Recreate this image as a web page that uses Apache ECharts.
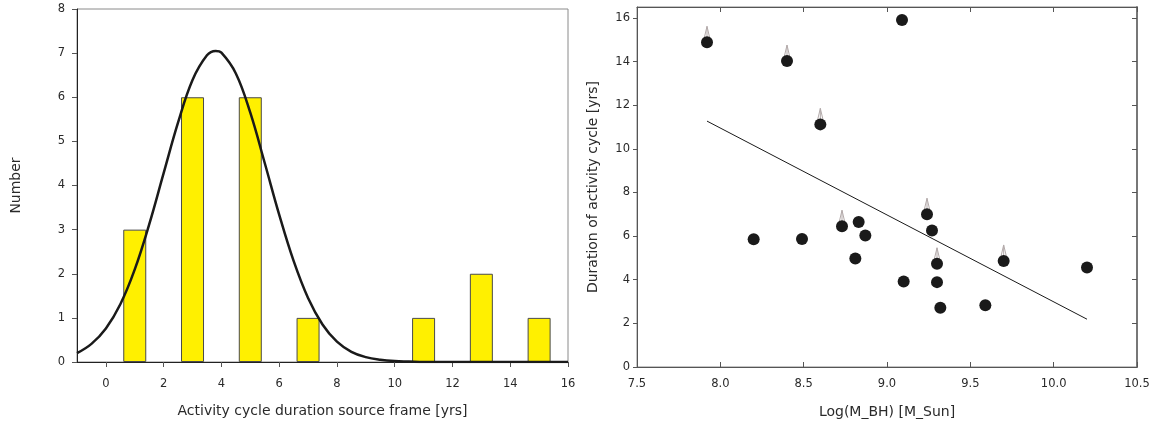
<!DOCTYPE html>
<html>
<head>
<meta charset="utf-8">
<script src="https://cdn.jsdelivr.net/npm/echarts@6/dist/echarts.min.js"></script>
<style>
html,body{margin:0;padding:0;background:#fff;}
#c{width:1160px;height:427px;}
</style>
</head>
<body>
<div id="c"></div>
<script>
// ---- Left panel: histogram of activity cycle durations ----
const histCenters = [1, 3, 5, 7, 11, 13, 15];
const histCounts  = [3, 6, 6, 1, 1, 2, 1];
// fitted curve
const curveX = [-1, -0.5, 0, 0.5, 1, 1.5, 2, 2.5, 3, 3.5, 3.8, 4, 4.5, 5, 5.5, 6, 6.5, 7, 7.5, 8, 8.5, 9, 9.5, 10, 10.5, 11, 11.5, 12, 13, 14, 15, 16];
const curveY = [0.20, 0.41, 0.76, 1.31, 2.10, 3.12, 4.28, 5.43, 6.39, 6.95, 7.05, 7.01, 6.54, 5.65, 4.51, 3.34, 2.29, 1.45, 0.85, 0.46, 0.23, 0.11, 0.05, 0.02, 0.01, 0, 0, 0, 0, 0, 0, 0];
const leftXTicks = [0, 2, 4, 6, 8, 10, 12, 14, 16];
const leftYTicks = [0, 1, 2, 3, 4, 5, 6, 7, 8];

// ---- Right panel: duration vs black hole mass ----
const massLog   = [7.92, 8.40, 8.60, 9.09, 8.20, 8.49, 8.73, 8.83, 8.87, 8.81, 9.24, 9.27, 9.30, 9.10, 9.30, 9.32, 9.59, 9.70, 10.20];
const cycleYrs  = [14.88, 14.02, 11.12, 15.90, 5.86, 5.87, 6.45, 6.65, 6.03, 4.97, 7.00, 6.26, 4.73, 3.92, 3.89, 2.72, 2.83, 4.86, 4.56];
const lowerLim  = [1, 1, 1, 0, 0, 0, 1, 0, 0, 0, 1, 0, 1, 0, 0, 0, 0, 1, 0];
const fitX = [7.92, 10.20];
const fitY = [11.27, 2.19];
const rightXTicks = [7.5, 8.0, 8.5, 9.0, 9.5, 10.0, 10.5];
const rightYTicks = [0, 2, 4, 6, 8, 10, 12, 14, 16];

const FONT = 'DejaVu Sans, Liberation Sans, Arial, sans-serif';
const TXT = '#2a2a2a';

const chart = echarts.init(document.getElementById('c'), null, {renderer: 'canvas'});

const histData = histCenters.map((x, i) => [x, histCounts[i]]);
const curveData = curveX.map((x, i) => [x, curveY[i]]);
const pts = massLog.map((x, i) => [x, cycleYrs[i]]);
const arrowPts = massLog.map((x, i) => [x, cycleYrs[i], lowerLim[i]]).filter(d => d[2] === 1);
const fitData = fitX.map((x, i) => [x, fitY[i]]);

const lbl = {fontFamily: FONT, fontSize: 11.5, color: TXT};
const nameStyle = {fontFamily: FONT, fontSize: 14, color: TXT};

chart.setOption({
  animation: false,
  backgroundColor: '#fff',
  grid: [
    {left: 77, top: 9, right: 592, bottom: 65, show: true, borderColor: '#8a8a8a', borderWidth: 1, backgroundColor: 'transparent'},
    {left: 637, top: 7, right: 23, bottom: 60, show: true, borderColor: '#8a8a8a', borderWidth: 1, backgroundColor: 'transparent'}
  ],
  xAxis: [
    {
      type: 'value', gridIndex: 0, min: -1, max: 16,
      name: 'Activity cycle duration source frame [yrs]', nameLocation: 'middle', nameGap: 42, nameTextStyle: nameStyle,
      axisLine: {show: true, onZero: false, lineStyle: {color: '#222', width: 1}},
      axisTick: {show: true, length: 5, customValues: leftXTicks, lineStyle: {color: '#555'}},
      axisLabel: {customValues: leftXTicks, margin: 16, ...lbl},
      splitLine: {show: false}
    },
    {
      type: 'value', gridIndex: 1, min: 7.5, max: 10.5,
      name: 'Log(M_BH) [M_Sun]', nameLocation: 'middle', nameGap: 38, nameTextStyle: nameStyle,
      axisLine: {show: true, onZero: false, lineStyle: {color: '#555', width: 1}},
      axisTick: {show: true, inside: true, length: 5, customValues: rightXTicks, lineStyle: {color: '#555'}},
      axisLabel: {customValues: rightXTicks, margin: 11, formatter: v => v.toFixed(1), ...lbl},
      splitLine: {show: false}
    },
    {
      type: 'value', gridIndex: 1, min: 7.5, max: 10.5, position: 'top',
      axisLine: {show: true, onZero: false, lineStyle: {color: '#555', width: 1}},
      axisTick: {show: true, inside: true, length: 5, customValues: rightXTicks, lineStyle: {color: '#555'}},
      axisLabel: {show: false},
      splitLine: {show: false}
    }
  ],
  yAxis: [
    {
      type: 'value', gridIndex: 0, min: 0, max: 8,
      name: 'Number', nameLocation: 'middle', nameGap: 54, nameTextStyle: nameStyle,
      axisLine: {show: true, onZero: false, lineStyle: {color: '#222', width: 1}},
      axisTick: {show: true, length: 5, customValues: leftYTicks, lineStyle: {color: '#555'}},
      axisLabel: {customValues: leftYTicks, margin: 12, ...lbl},
      splitLine: {show: false}
    },
    {
      type: 'value', gridIndex: 1, min: 0, max: 16.5,
      name: 'Duration of activity cycle [yrs]', nameLocation: 'middle', nameGap: 37, nameTextStyle: nameStyle,
      axisLine: {show: true, onZero: false, lineStyle: {color: '#555', width: 1}},
      axisTick: {show: true, length: 4, customValues: rightYTicks, lineStyle: {color: '#555'}},
      axisLabel: {customValues: rightYTicks, margin: 7, ...lbl},
      splitLine: {show: false}
    },
    {
      type: 'value', gridIndex: 1, min: 0, max: 16.5, position: 'right',
      axisLine: {show: true, onZero: false, lineStyle: {color: '#777', width: 2}},
      axisTick: {show: true, inside: true, length: 5, customValues: rightYTicks, lineStyle: {color: '#555'}},
      axisLabel: {show: false},
      splitLine: {show: false}
    }
  ],
  series: [
    {
      type: 'bar', xAxisIndex: 0, yAxisIndex: 0, data: histData, barWidth: 23,
      itemStyle: {color: '#FFF000', borderColor: '#4a4a4a', borderWidth: 1}, z: 2
    },
    {
      type: 'line', xAxisIndex: 0, yAxisIndex: 0, data: curveData, smooth: 0.4, showSymbol: false,
      lineStyle: {color: '#1a1a1a', width: 2.5}, z: 3
    },
    {
      type: 'line', xAxisIndex: 1, yAxisIndex: 1, data: fitData, showSymbol: false,
      lineStyle: {color: '#1a1a1a', width: 1}, z: 2
    },
    {
      type: 'custom', xAxisIndex: 1, yAxisIndex: 1, data: arrowPts, z: 3,
      renderItem: function (params, api) {
        const p = api.coord([api.value(0), api.value(1)]);
        const st = {stroke: '#b3aaaa', lineWidth: 1, fill: null};
        return {
          type: 'group',
          children: [
            {type: 'polyline', shape: {points: [[p[0] - 2.6, p[1] - 5], [p[0], p[1] - 16], [p[0] + 2.6, p[1] - 5]]}, style: st},
            {type: 'line', shape: {x1: p[0], y1: p[1] - 16, x2: p[0], y2: p[1] - 5}, style: st}
          ]
        };
      }
    },
    {
      type: 'scatter', xAxisIndex: 1, yAxisIndex: 1, data: pts, symbolSize: 12,
      itemStyle: {color: '#1a1a1a', opacity: 1}, z: 4
    }
  ]
});
</script>
</body>
</html>
